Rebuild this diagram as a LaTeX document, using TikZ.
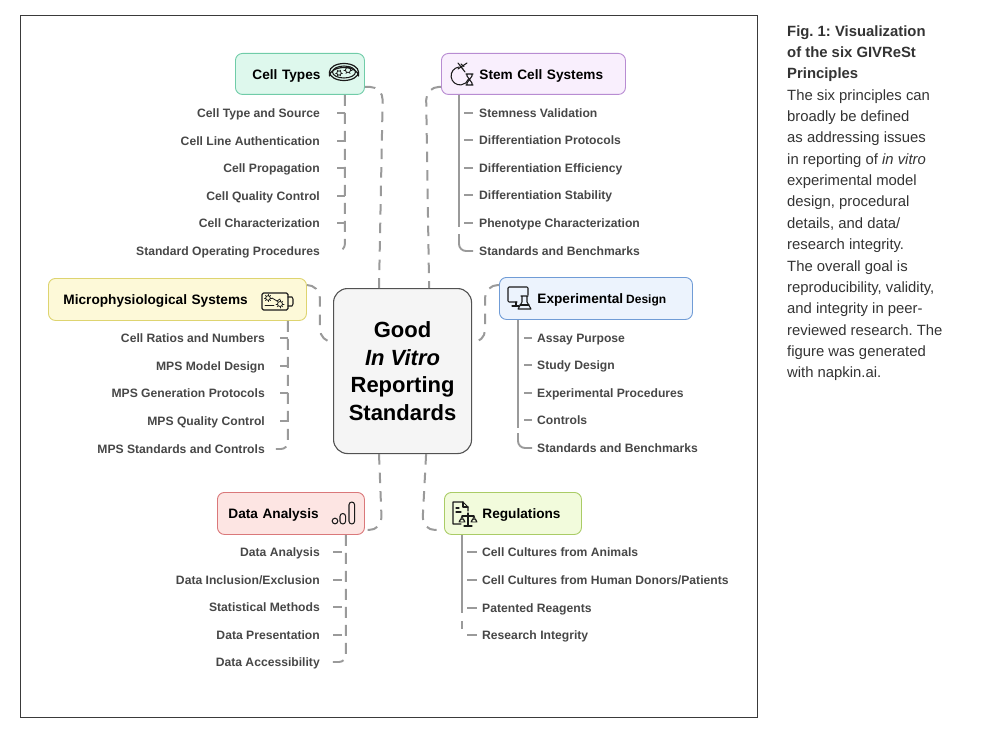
\documentclass[tikz,border=0pt]{standalone}
\usepackage{fontspec}
\setmainfont{Liberation Sans}
\frenchspacing
\usetikzlibrary{calc}
\definecolor{linkc}{HTML}{9A9A9A}
\definecolor{itemc}{HTML}{474747}
\definecolor{capc}{HTML}{333333}
\definecolor{framec}{HTML}{3A3A3A}
\definecolor{icon}{HTML}{1A1A1A}
\definecolor{ctd}{RGB}{112,204,168}\definecolor{ctf}{RGB}{222,248,237}
\definecolor{std}{RGB}{184,140,210}\definecolor{stf}{RGB}{249,239,253}
\definecolor{mpd}{RGB}{222,212,112}\definecolor{mpf}{RGB}{253,249,216}
\definecolor{exd}{RGB}{112,156,214}\definecolor{exf}{RGB}{236,243,253}
\definecolor{dad}{RGB}{218,120,122}\definecolor{daf}{RGB}{253,229,227}
\definecolor{red}{RGB}{170,204,102}\definecolor{ref}{RGB}{242,251,220}
\tikzset{
  box/.style={rounded corners=7pt,line width=0.9pt,inner sep=0pt,anchor=north west,align=left,text height=12pt,text depth=1pt,font=\fontsize{13.65}{16}\selectfont\bfseries,text=black},
  link/.style={draw=linkc,line width=2pt,dash pattern=on 10.5pt off 8pt,rounded corners=13pt},
  spinedash/.style={draw=linkc,line width=1.9pt,dash pattern=on 11pt off 7pt,rounded corners=7pt},
  spinesolid/.style={draw=linkc,line width=2pt},
  tick/.style={draw=linkc,line width=1.8pt},
  iteml/.style={anchor=east,inner sep=0pt,text height=9.5pt,text depth=0pt,text=itemc,font=\fontsize{12.15}{15}\selectfont\bfseries},
  itemr/.style={anchor=west,inner sep=0pt,text height=9.5pt,text depth=0pt,text=itemc,font=\fontsize{12.15}{15}\selectfont\bfseries},
  ic/.style={draw=icon,line width=1.05pt,fill=none,line cap=round,line join=round},
}
\newcommand{\tickL}[2]{\draw[tick] ([xshift=17pt]#1.east) -- (#1.east -| #2);}
\newcommand{\tickR}[2]{\draw[tick] ([xshift=-6pt]#1.west) -- ([xshift=-15pt]#1.west);}
\begin{document}
\begin{tikzpicture}[x=1pt,y=-1pt]
\useasboundingbox (0,0) rectangle (1000,733);
\draw[framec,line width=1pt] (20,15.5) rectangle (757.5,717);

% centre
\node[draw=black!68,fill=black!4,rounded corners=14pt,line width=1.1pt,minimum width=138pt,minimum height=165pt,inner sep=0pt,anchor=north west,align=center,font=\fontsize{22}{27.4}\selectfont\bfseries] (center) at (333,288) {Good\\\itshape In Vitro\\Reporting\\Standards};

% heading boxes
\node[box,draw=ctd,fill=ctf,minimum width=129pt,minimum height=41pt,text width=129pt] (ct) at (235,53) {\hspace*{17pt}Cell Types};
\node[box,draw=std,fill=stf,minimum width=184pt,minimum height=41pt,text width=184pt] (st) at (441,53) {\hspace*{38pt}Stem Cell Systems};
\node[box,draw=mpd,fill=mpf,minimum width=258pt,minimum height=42pt,text width=258pt] (mps) at (48,278) {\hspace*{15pt}Microphysiological Systems};
\node[box,draw=exd,fill=exf,minimum width=193pt,minimum height=42pt,text width=193pt] (ex) at (499,277) {\hspace*{38pt}Experimental\hspace{3pt}{\fontsize{12}{15}\selectfont Design}};
\node[box,draw=dad,fill=daf,minimum width=147pt,minimum height=42pt,text width=147pt] (da) at (217,492) {\hspace*{11pt}Data Analysis};
\node[box,draw=red,fill=ref,minimum width=137pt,minimum height=42pt,text width=137pt] (re) at (444,492) {\hspace*{38pt}Regulations};

% centre links
\draw[link] ([yshift=8pt]ct.south east) -- ++(18,0) -- ([xshift=46pt]center.north west);
\draw[link] ([yshift=8pt]st.south west) -- ++(-15,0) -- ([xshift=-43pt]center.north east);
\draw[link] ([yshift=-7pt]mps.north east) -- ++(13,0) -- ++(0,57) -- ([yshift=-54pt]center.north west);
\draw[link] ([yshift=-8pt]ex.north west) -- ++(-14,0) -- ++(0,58) -- ([yshift=-54pt]center.north east);
\draw[link] ([xshift=46pt]center.south west) -- ++(3,76) -- ([yshift=5pt]da.south east);
\draw[link] ([xshift=-46pt]center.south east) -- ++(-4,76) -- ([yshift=5pt]re.south west);

% Cell types
\node[iteml] (a1) at (320,113) {Cell Type and Source};
\node[iteml] (a2) at (320,141) {Cell Line Authentication};
\node[iteml] (a3) at (320,168) {Cell Propagation};
\node[iteml] (a4) at (320,196) {Cell Quality Control};
\node[iteml] (a5) at (320,223) {Cell Characterization};
\node[iteml] (a6) at (320,251) {Standard Operating Procedures};
\coordinate (asp) at ([xshift=-20pt]ct.south east);
\draw[spinedash] (asp) |- ([xshift=17pt]a6.east);
\foreach \n in {a1,a2,a3,a4,a5}{\tickL{\n}{asp}}

% Stem
\node[itemr] (b1) at (479,113) {Stemness Validation};
\node[itemr] (b2) at (479,140) {Differentiation Protocols};
\node[itemr] (b3) at (479,168) {Differentiation Efficiency};
\node[itemr] (b4) at (479,195) {Differentiation Stability};
\node[itemr] (b5) at (479,223) {Phenotype Characterization};
\node[itemr] (b6) at (479,251) {Standards and Benchmarks};
\coordinate (bsp) at ([xshift=18pt]st.south west);
\draw[spinesolid] (bsp) -- (bsp |- b5.west) -- ++(0,4);
\draw[spinedash,dash pattern=on 20pt off 0pt] ([yshift=17pt]bsp |- b6.west) |- ([xshift=-6pt]b6.west);
\foreach \n in {b1,b2,b3,b4,b5}{\tickR{\n}{bsp}}

% MPS
\node[iteml] (c1) at (265,338) {Cell Ratios and Numbers};
\node[iteml] (c2) at (265,366) {MPS Model Design};
\node[iteml] (c3) at (265,393) {MPS Generation Protocols};
\node[iteml] (c4) at (265,421) {MPS Quality Control};
\node[iteml] (c5) at (265,449) {MPS Standards and Controls};
\coordinate (csp) at ([xshift=-19pt]mps.south east);
\draw[spinedash] (csp) |- ([xshift=9pt]c5.east);
\foreach \n in {c1,c2,c3,c4}{\draw[tick] ([xshift=15pt]\n.east) -- (\n.east -| csp);}

% Experimental
\node[itemr] (d1) at (537,338) {Assay Purpose};
\node[itemr] (d2) at (537,365) {Study Design};
\node[itemr] (d3) at (537,393) {Experimental Procedures};
\node[itemr] (d4) at (537,420) {Controls};
\node[itemr] (d5) at (537,448) {Standards and Benchmarks};
\coordinate (dsp) at ([xshift=19pt]ex.south west);
\draw[spinesolid] (dsp) -- (dsp |- d4.west) -- ++(0,8);
\draw[spinedash,dash pattern=on 22pt off 0pt] ([yshift=15pt]dsp |- d5.west) |- ([xshift=-5pt]d5.west);
\foreach \n in {d1,d2,d3,d4}{\draw[tick] ([xshift=-5pt]\n.west) -- ([xshift=-13pt]\n.west);}

% Data analysis
\node[iteml] (e1) at (320,552) {Data Analysis};
\node[iteml] (e2) at (320,580) {Data Inclusion/Exclusion};
\node[iteml] (e3) at (320,607) {Statistical Methods};
\node[iteml] (e4) at (320,635) {Data Presentation};
\node[iteml] (e5) at (320,662) {Data Accessibility};
\coordinate (esp) at ([xshift=-19pt]da.south east);
\draw[spinedash] (esp) |- ([xshift=12pt]e5.east);
\foreach \n in {e1,e2,e3,e4}{\draw[tick] ([xshift=13pt]\n.east) -- ([xshift=22pt]\n.east);}

% Regulations
\node[itemr] (f1) at (482,552) {Cell Cultures from Animals};
\node[itemr] (f2) at (482,580) {Cell Cultures from Human Donors/Patients};
\node[itemr] (f3) at (482,608) {Patented Reagents};
\node[itemr] (f4) at (482,635) {Research Integrity};
\coordinate (fsp) at ([xshift=18pt]re.south west);
\draw[spinesolid] (fsp) -- ([yshift=-5pt]fsp |- f3.west);
\draw[spinesolid] ([yshift=14pt]f4.west -| fsp) -- ([yshift=6pt]f4.west -| fsp);
\draw[tick] ([xshift=-15pt]f4.west) -- ([xshift=-5pt]f4.west);
\foreach \n in {f1,f2,f3}{\draw[tick] ([xshift=-15pt]\n.west) -- ([xshift=-5pt]\n.west);}

% icon: petri dish
\begin{scope}[shift={(344,73)}]
  \draw[ic,line width=1.2pt] (0,-1) ellipse (14.5 and 8.5);
  \draw[ic] (0,-1) ellipse (11.5 and 6);
  \draw[ic,line width=1.2pt] (-14.5,-1) -- (-14.5,3) arc[start angle=180,end angle=360,x radius=14.5,y radius=8.5] -- (14.5,-1);
  \draw[ic,line width=.8pt] (4,-3) circle (2.6);
  \draw[ic,line width=.8pt] (-5,0) circle (2.2);
  \foreach \a in {0,60,...,300}{\draw[ic,line width=.7pt] (4,-3) ++(\a:2.6) -- ++(\a:1.5); \draw[ic,line width=.6pt] (-5,0) ++(\a:2.2) -- ++(\a:1.2);}
\end{scope}

% icon: stem
\begin{scope}[shift={(460,76)}]
  \draw[ic] (-1,-9) arc[start angle=-97,end angle=-340,radius=9];
  \draw[ic] (5,-4) -- (-2,-13) (-2,-7) -- (7,-13) (0,-10) -- (3,-7) (1,-12) -- (4,-9.5);
  \draw[ic] (6,-2) -- (13,-2) (6,9) -- (13,9) (7,-2) -- (7,0) -- (12,7) -- (12,9) (12,-2) -- (12,0) -- (7,7) -- (7,9);
\end{scope}

% icon: MPS chip
\begin{scope}[shift={(262,293)}]
  \draw[ic,rounded corners=1.5pt,line width=1.2pt] (0,0) rectangle (26,17);
  \draw[ic] (26,4) -- (30,4) -- (31,6) -- (31,11) -- (30,13) -- (26,13);
  \draw[ic,line width=.8pt] (6,5) circle (2.3);
  \foreach \a in {0,45,...,315}{\draw[ic,line width=.6pt] (6,5) ++(\a:2.3) -- ++(\a:1.3);}
  \draw[ic,line width=.8pt] (10,5) -- (15,8) -- (18,6);
  \draw[ic,line width=.8pt] (3,12) -- (12,12);
  \draw[ic,line width=.8pt] (18,11) circle (2.5);
  \foreach \a in {0,45,...,315}{\draw[ic,line width=.6pt] (18,11) ++(\a:2.5) -- ++(\a:1.6);}
\end{scope}

% icon: monitor and flask
\begin{scope}[shift={(508,287)}]
  \draw[ic,rounded corners=1pt] (9,15) -- (0,15) -- (0,0) -- (20,0) -- (20,8);
  \draw[ic] (4,19) -- (11,19) (8,15) -- (8,19);
  \draw[ic] (13,9) -- (20,9) (14,9) -- (14,15) -- (10,22) -- (23,22) -- (19,15) -- (19,9);
  \draw[ic] (12,18) -- (21,18);
\end{scope}

% icon: bars
\begin{scope}[shift={(335,521)}]
  \draw[ic] (0,0) circle (2.8);
  \draw[ic,rounded corners=2.8pt] (5,-7.5) rectangle (10.6,3);
  \draw[ic,rounded corners=2.8pt] (14,-19) rectangle (19.6,3);
\end{scope}

% icon: document and scales
\begin{scope}[shift={(453,502)}]
  \draw[ic] (8,22) -- (0,22) -- (0,0) -- (10,0) -- (15,5) -- (15,9);
  \draw[ic] (10,0) -- (10,5) -- (15,5);
  \draw[ic] (3,6) -- (6,6) (3,10) -- (8,10);
  \draw[ic] (15,11) -- (15,24) (11,24) -- (19,24) (9,14) -- (21,14);
  \draw[ic,line width=.8pt] (9,14) -- (6.5,20) (9,14) -- (11.5,20) (6,20) arc[start angle=180,end angle=360,radius=3] -- cycle;
  \draw[ic,line width=.8pt] (21,14) -- (18.5,20) (21,14) -- (23.5,20) (18,20) arc[start angle=180,end angle=360,radius=3] -- cycle;
\end{scope}

% caption
\node[anchor=north west,inner sep=0pt,align=left,text=capc,font=\fontsize{14.85}{21.35}\selectfont] (cap) at (787,25.2) {\textbf{Fig. 1: Visualization}\\\textbf{of the six GIVReSt}\\\textbf{Principles}\\The six principles can\\broadly be defined\\as addressing issues\\in reporting of \textit{in vitro}\\experimental model\\design, procedural\\details, and data/\\research integrity.\\The overall goal is\\reproducibility, validity,\\and integrity in peer-\\reviewed research. The\\figure was generated\\with napkin.ai.};
\end{tikzpicture}
\end{document}
